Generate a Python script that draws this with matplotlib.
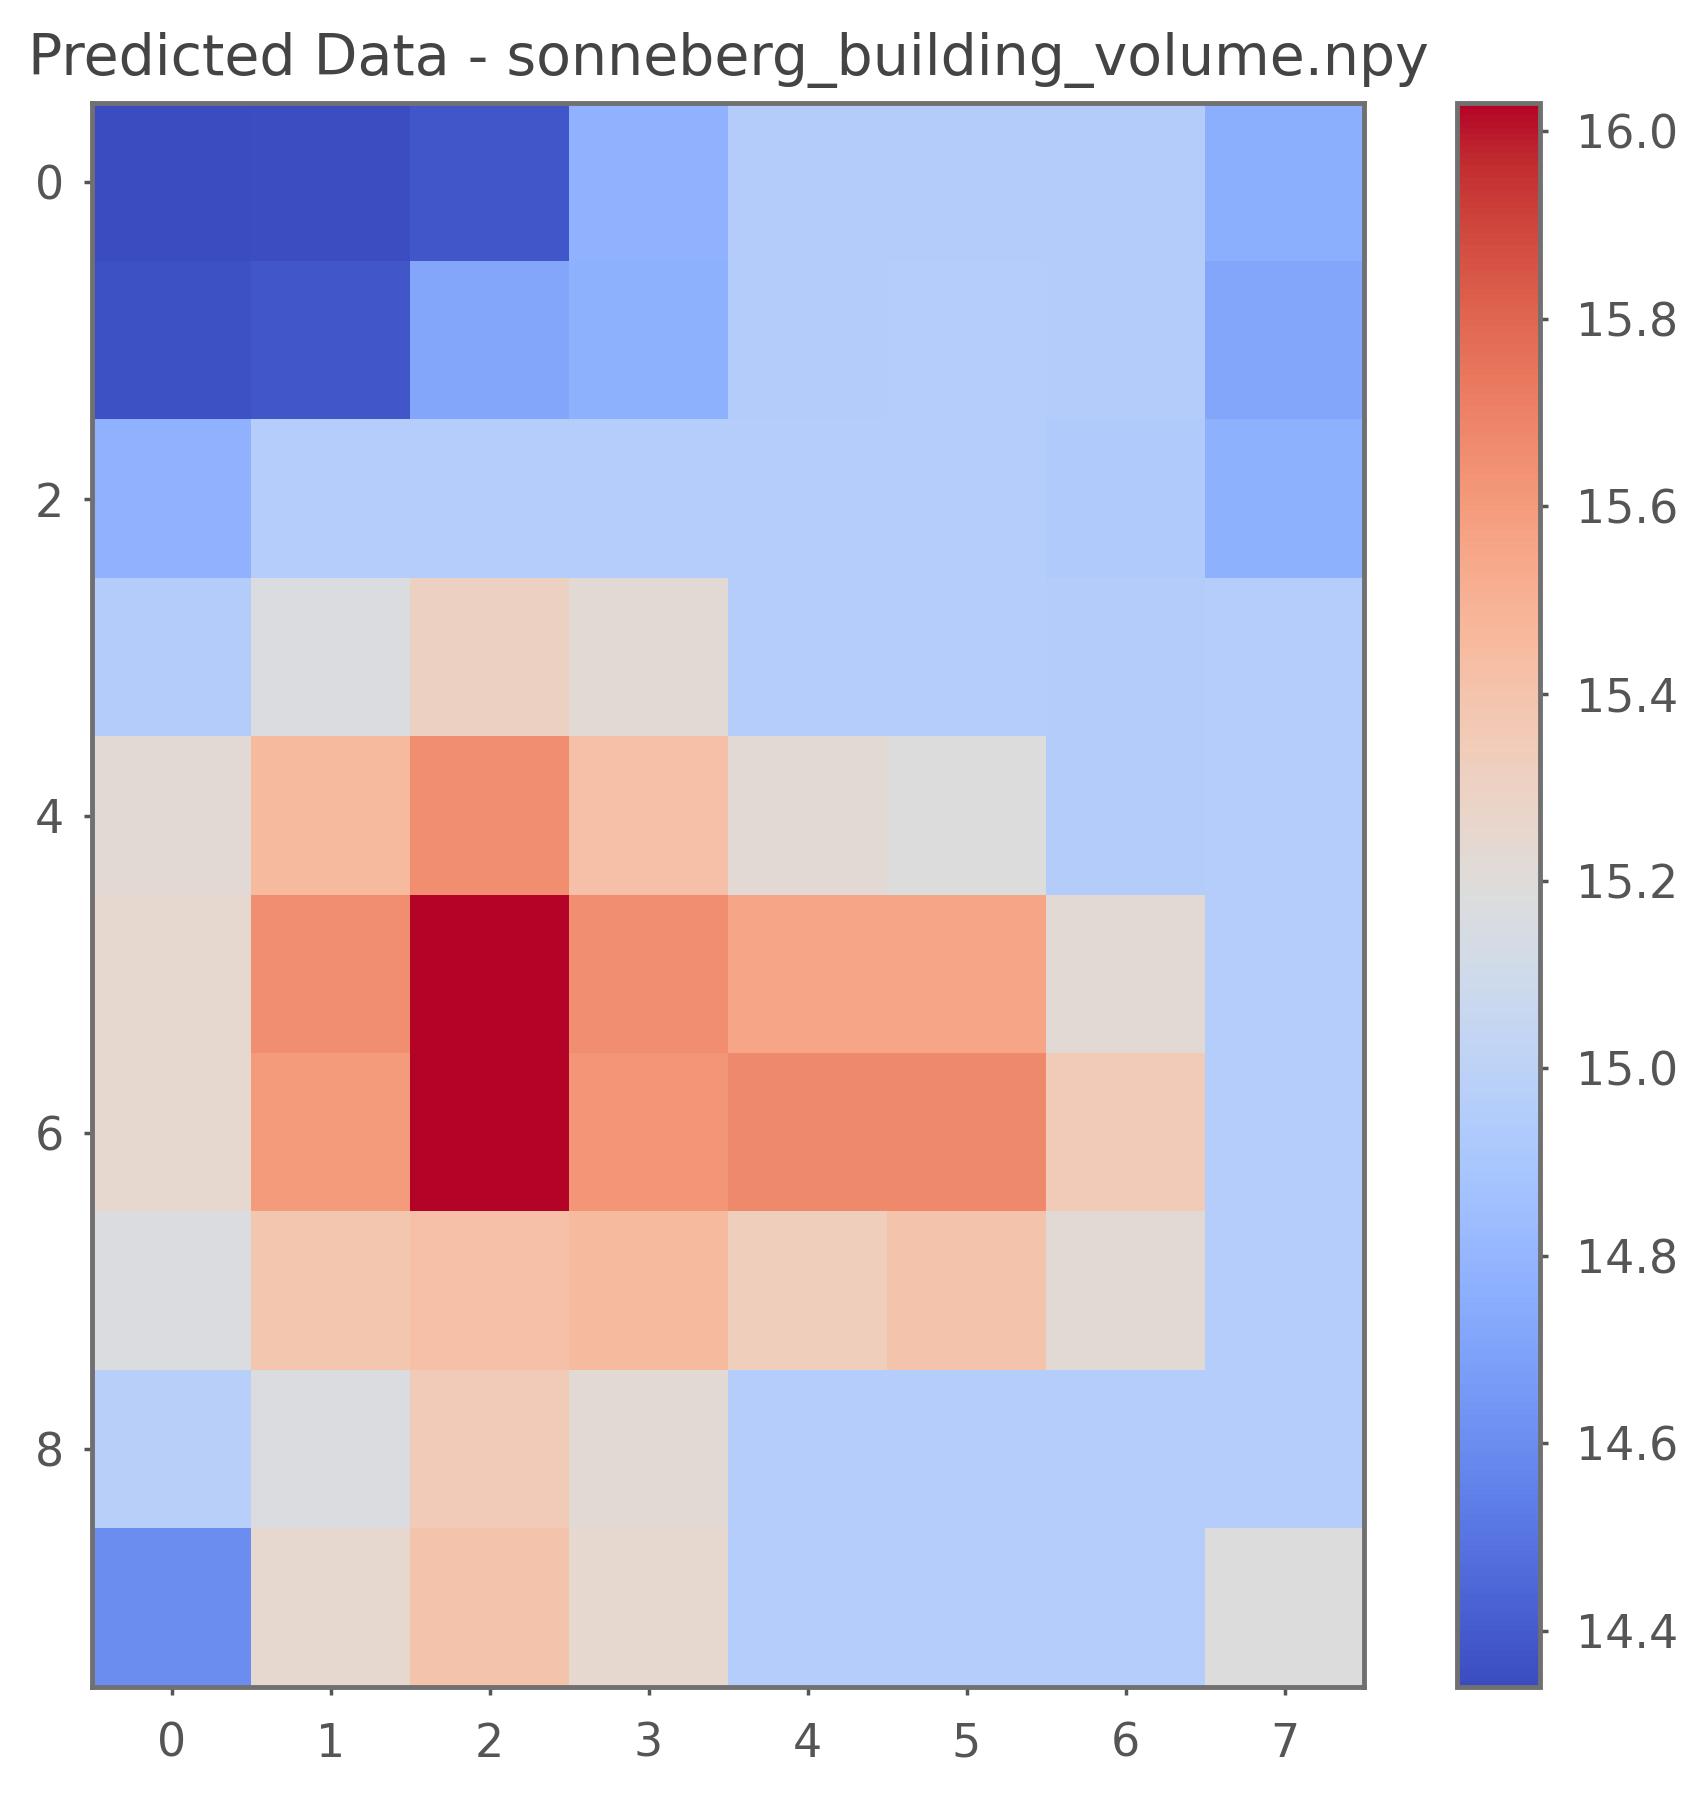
import numpy as np
import matplotlib
matplotlib.use("Agg")
import matplotlib.pyplot as plt

title = "Predicted Data - sonneberg_building_volume.npy"
x_ticks = [0, 1, 2, 3, 4, 5, 6, 7]
y_ticks = [0, 2, 4, 6, 8]
cbar_ticks = [14.4, 14.6, 14.8, 15.0, 15.2, 15.4, 15.6, 15.8, 16.0]

row0 = [14.34, 14.35, 14.38, 14.78, 14.95, 14.95, 14.95, 14.76]
row1 = [14.36, 14.38, 14.72, 14.77, 14.95, 14.96, 14.95, 14.72]
row2 = [14.78, 14.96, 14.96, 14.96, 14.96, 14.96, 14.94, 14.77]
row3 = [14.95, 15.17, 15.30, 15.22, 14.96, 14.96, 14.95, 14.96]
row4 = [15.22, 15.45, 15.65, 15.42, 15.22, 15.18, 14.95, 14.96]
row5 = [15.25, 15.65, 16.03, 15.65, 15.55, 15.55, 15.22, 14.96]
row6 = [15.25, 15.60, 16.03, 15.62, 15.67, 15.67, 15.35, 14.96]
row7 = [15.17, 15.38, 15.42, 15.45, 15.33, 15.40, 15.22, 14.96]
row8 = [14.97, 15.17, 15.35, 15.22, 14.96, 14.96, 14.96, 14.96]
row9 = [14.60, 15.25, 15.40, 15.25, 14.96, 14.96, 14.96, 15.18]

data = np.array([row0, row1, row2, row3, row4, row5, row6, row7, row8, row9])

fig = plt.figure(figsize=(17.04, 18.02), dpi=100)
ax = fig.add_axes([0.054, 0.0638, 0.7465, 0.879])
im = ax.imshow(data, cmap="coolwarm", aspect="auto", interpolation="nearest",
               vmin=data.min(), vmax=data.max())
ax.set_xticks(x_ticks)
ax.set_yticks(y_ticks)
ax.tick_params(labelsize=33, length=6, width=2.5, colors="#555555")
ax.tick_params(axis="x", pad=19)
ax.tick_params(axis="y", pad=14)
for s in ax.spines.values():
    s.set_linewidth(3.5)
    s.set_color("#707070")
ax.set_title(title, fontsize=41, color="#444444", pad=20)

cax = fig.add_axes([0.855, 0.0638, 0.0487, 0.879])
cb = fig.colorbar(im, cax=cax, ticks=cbar_ticks)
cb.ax.tick_params(labelsize=33, length=6, width=2.5, colors="#555555", pad=20)
cb.outline.set_linewidth(3.5)
cb.outline.set_edgecolor("#707070")
cb.ax.set_yticklabels([f"{t:.1f}" for t in cbar_ticks])

fig.savefig("out.png", dpi=100)
